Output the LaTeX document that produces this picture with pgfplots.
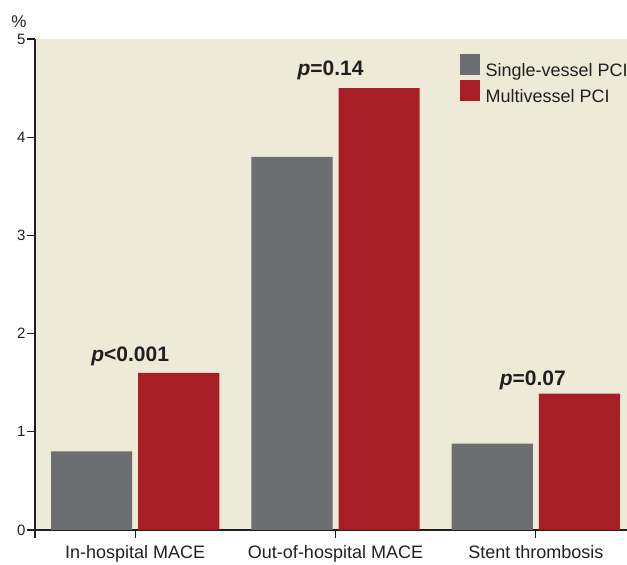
\documentclass[border=0pt]{standalone}
\usepackage{fontspec}
\setmainfont{Liberation Sans}
\usepackage{pgfplots}
\pgfplotsset{compat=1.18}
\definecolor{bg}{HTML}{EDEAD8}
\definecolor{sgray}{HTML}{6D6E71}
\definecolor{mred}{HTML}{A71F24}
\definecolor{txt}{HTML}{231F20}
\begin{document}
\begin{tikzpicture}
\begin{axis}[
  width=592pt, height=491pt, scale only axis,
  xmin=-0.5, xmax=2.455, ymin=0, ymax=5,
  axis x line=bottom, axis y line=left,
  axis line style={-, line width=1.6pt, color=txt},
  axis background/.style={fill=bg},
  ybar, bar width=0.405,
  xtick={0,1,2},
  xticklabels={In-hospital MACE, Out-of-hospital MACE, Stent thrombosis},
  extra x ticks={-0.5}, extra x tick labels={},
  ytick={0,1,2,3,4,5},
  tick align=outside, major tick length=8pt,
  tick style={line width=1.2pt, color=txt},
  /pgf/number format/assume math mode=true,
  xticklabel style={font=\fontsize{18}{21}\selectfont, text=txt, yshift=-4pt},
  yticklabel style={font=\fontsize{15}{17}\selectfont, text=txt, xshift=2pt},
  legend style={at={(rel axis cs:0.717,0.970)}, anchor=north west, draw=none, fill=none,
    font=\fontsize{18}{21}\selectfont, text=txt, inner sep=0pt, row sep=0pt,
    /tikz/every odd column/.style={column sep=4pt}},
  legend cell align=left,
  legend image code/.code={\fill[#1] (0pt,-4pt) rectangle (20pt,17pt);},
]
\addplot[fill=sgray, draw=none, bar shift=-0.2175] coordinates {(0,0.80) (1,3.80) (2,0.88)};
\addplot[fill=mred, draw=none, bar shift=0.2175] coordinates {(0,1.60) (1,4.50) (2,1.39)};
\legend{Single-vessel PCI, Multivessel PCI}
\node[anchor=base, font=\fontsize{21}{24}\selectfont\bfseries, text=txt] at (axis cs:-0.025,1.714) {\textit{p}<0.001};
\node[anchor=base, font=\fontsize{21}{24}\selectfont\bfseries, text=txt] at (axis cs:0.975,4.633) {\textit{p}=0.14};
\node[anchor=base, font=\fontsize{21}{24}\selectfont\bfseries, text=txt] at (axis cs:1.985,1.469) {\textit{p}=0.07};
\coordinate (bl) at (rel axis cs:0,0);
\coordinate (tr) at (rel axis cs:1,1);
\coordinate (pc) at (rel axis cs:0,1);
\end{axis}
\node[anchor=base, font=\fontsize{17}{20}\selectfont, text=txt, inner sep=0pt, xshift=-16pt, yshift=11pt] at (pc) {\%};
\pgfresetboundingbox
\path[use as bounding box] ([shift={(-35pt,-35pt)}]bl) rectangle ([shift={(0pt,39pt)}]tr);
\end{tikzpicture}
\end{document}
